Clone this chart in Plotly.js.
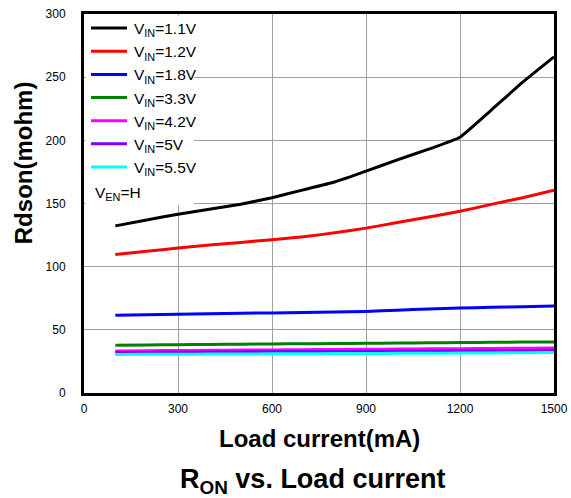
<!DOCTYPE html>
<html>
<head>
<meta charset="utf-8">
<script src="https://cdn.plot.ly/plotly-3.0.1.min.js"></script>
<style>
  html, body { margin: 0; padding: 0; background: #ffffff; }
  #chart { width: 571px; height: 498px; }
</style>
</head>
<body>
<div id="chart"></div>
<script>
// Load current (mA)
const loadCurrent = [100, 200, 300, 400, 500, 600, 700, 800, 900, 1000, 1100, 1200, 1300, 1400, 1500];

// Rdson (mohm) per input voltage
const vin1v1 = [132.3, 137, 141.5, 145.4, 149.4, 154.6, 160.8, 167, 175.6, 184.6, 193, 202.5, 224, 246, 266];
const vin1v2 = [109.6, 112.2, 114.7, 117.1, 119.2, 121.3, 123.6, 126.8, 130.5, 134.9, 139.3, 143.8, 149.3, 154.6, 160.6];
const vin1v8 = [61.5, 62, 62.4, 62.8, 63.1, 63.4, 63.7, 64.1, 64.6, 65.5, 66.5, 67.2, 67.8, 68.3, 68.9];
const vin3v3 = [37.8, 38, 38.2, 38.4, 38.6, 38.8, 39, 39.1, 39.3, 39.5, 39.7, 39.9, 40.1, 40.3, 40.4];
const vin4v2 = [33.3, 33.5, 33.6, 33.8, 34, 34.1, 34.3, 34.5, 34.6, 34.8, 35, 35.1, 35.3, 35.5, 35.7];
const vin5v0 = [32.0, 32.1, 32.3, 32.4, 32.5, 32.7, 32.8, 32.9, 33.0, 33.2, 33.3, 33.4, 33.6, 33.7, 33.9];
const vin5v5 = [30.5, 30.6, 30.7, 30.8, 30.9, 31.0, 31.1, 31.2, 31.3, 31.4, 31.5, 31.6, 31.7, 31.9, 32.0];

const seriesNames = ["V<sub>IN</sub>=1.1V", "V<sub>IN</sub>=1.2V", "V<sub>IN</sub>=1.8V", "V<sub>IN</sub>=3.3V",
                     "V<sub>IN</sub>=4.2V", "V<sub>IN</sub>=5V", "V<sub>IN</sub>=5.5V"];
const seriesValues = [vin1v1, vin1v2, vin1v8, vin3v3, vin4v2, vin5v0, vin5v5];
const seriesColors = ["#000000", "#ff0000", "#0000ff", "#008000", "#ff00ff", "#8000ff", "#00ffff"];

const xTicks = [0, 300, 600, 900, 1200, 1500];
const yTicks = [0, 50, 100, 150, 200, 250, 300];

const FONT = "Arial, 'Liberation Sans', sans-serif";

const traces = seriesValues.map((vals, i) => ({
  x: loadCurrent,
  y: vals,
  type: "scatter",
  mode: "lines",
  name: seriesNames[i],
  line: { color: seriesColors[i], width: 3, shape: "spline", smoothing: 0.35 }
}));

const W = 571, H = 498, L = 84, R = 17, T = 12, B = 105;
const pw = W - L - R, ph = H - T - B;
const px = v => (v - L) / pw;
const py = v => (H - B - v) / ph;

const layout = {
  width: W, height: H,
  margin: { l: L, r: R, t: T, b: B, pad: 0 },
  paper_bgcolor: "#ffffff",
  plot_bgcolor: "#ffffff",
  font: { family: FONT, color: "#000000", size: 12 },
  showlegend: true,
  legend: {
    x: px(86), y: py(9.5), xanchor: "left", yanchor: "top",
    bgcolor: "rgba(255,255,255,0)", borderwidth: 0,
    font: { family: FONT, size: 15.5, color: "#000000" },
    tracegroupgap: 0, itemwidth: 38
  },
  xaxis: {
    range: [0, 1500], tickvals: xTicks, ticktext: xTicks.map(String),
    showgrid: true, gridcolor: "#a0a0a0", gridwidth: 1, zeroline: false,
    showline: true, mirror: true, linecolor: "#000000", linewidth: 3,
    ticks: "", ticklabelstandoff: 3,
    tickfont: { family: FONT, size: 12, color: "#000000" },
    fixedrange: true
  },
  yaxis: {
    range: [0, 300], tickvals: yTicks, ticktext: yTicks.map(String),
    showgrid: true, gridcolor: "#a0a0a0", gridwidth: 1, zeroline: false,
    showline: true, mirror: true, linecolor: "#000000", linewidth: 3,
    ticks: "", ticklabelstandoff: 13,
    tickfont: { family: FONT, size: 12, color: "#000000" },
    fixedrange: true
  },
  shapes: [
    {
      type: "rect", xref: "paper", yref: "paper", layer: "above",
      x0: px(85.6), x1: px(194), y0: py(204), y1: py(13.6),
      fillcolor: "#ffffff", line: { width: 0 }
    }
  ],
  annotations: [
    {
      text: "V<sub>EN</sub>=H", xref: "paper", yref: "paper",
      x: px(93), y: py(192), xanchor: "left", yanchor: "middle",
      showarrow: false,
      font: { family: FONT, size: 15.5, color: "#000000" }
    },
    {
      text: "Load current(mA)", xref: "paper", yref: "paper",
      x: 0.5, y: py(439), xanchor: "center", yanchor: "middle", showarrow: false,
      font: { family: FONT, size: 24, color: "#000000", weight: "bold" }
    },
    {
      text: "Rdson(mohm)", xref: "paper", yref: "paper", textangle: -90,
      x: px(23), y: py(162), xanchor: "center", yanchor: "middle", showarrow: false,
      font: { family: FONT, size: 24, color: "#000000", weight: "bold" }
    },
    {
      text: "R<sub>ON</sub> vs. Load current", xref: "paper", yref: "paper",
      x: px(312), y: py(481), xanchor: "center", yanchor: "middle", showarrow: false,
      font: { family: FONT, size: 27, color: "#000000", weight: "bold" }
    }
  ]
};

function lengthenLegendLines() {
  document.querySelectorAll("#chart .legend .legendlines path").forEach(p => {
    p.setAttribute("d", "M5,0h36");
  });
}

Plotly.newPlot("chart", traces, layout, { displayModeBar: false, staticPlot: true })
  .then(gd => {
    lengthenLegendLines();
    gd.on("plotly_afterplot", lengthenLegendLines);
  });
</script>
</body>
</html>
